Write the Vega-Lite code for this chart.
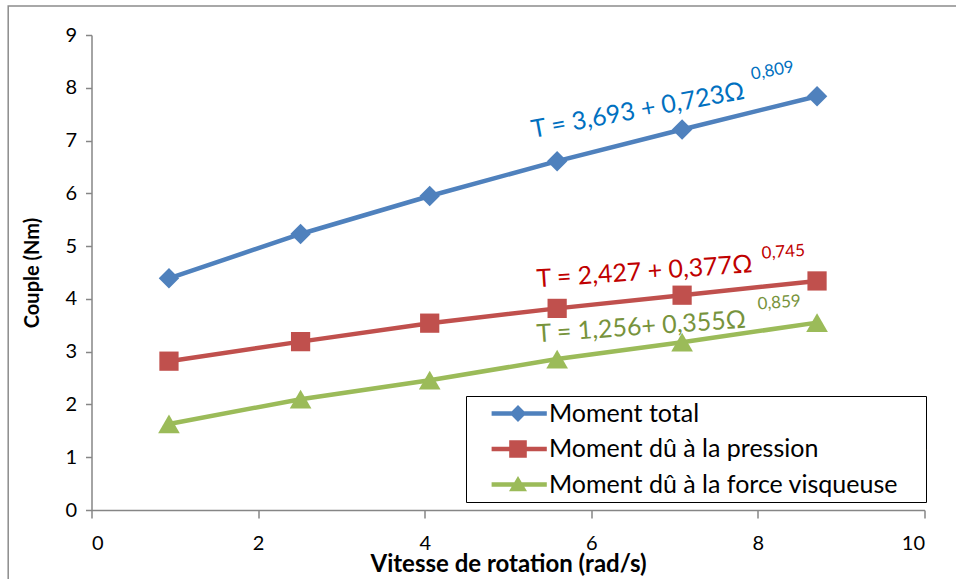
{
  "$schema": "https://vega.github.io/schema/vega-lite/v6.json",
  "width": 833,
  "height": 475,
  "autosize": {"type": "none"},
  "padding": {"left": 91.5, "top": 35, "right": 31.5, "bottom": 69},
  "background": "white",
  "config": {
    "view": {"stroke": null},
    "font": "Lato",
    "axis": {
      "grid": false,
      "domainColor": "#868686",
      "domainWidth": 1.5,
      "tickColor": "#868686",
      "tickWidth": 1.5,
      "labelFont": "Lato",
      "labelFontSize": 20,
      "labelColor": "black",
      "titleFont": "Lato",
      "titleFontWeight": "bold",
      "titleColor": "black"
    }
  },
  "datasets": {
    "points": [
      {"series": "Moment total", "x": 0.93, "y": 4.39},
      {"series": "Moment total", "x": 2.51, "y": 5.23},
      {"series": "Moment total", "x": 4.06, "y": 5.95},
      {"series": "Moment total", "x": 5.59, "y": 6.61},
      {"series": "Moment total", "x": 7.09, "y": 7.21},
      {"series": "Moment total", "x": 8.71, "y": 7.84},
      {"series": "Moment dû à la pression", "x": 0.93, "y": 2.82},
      {"series": "Moment dû à la pression", "x": 2.51, "y": 3.19},
      {"series": "Moment dû à la pression", "x": 4.06, "y": 3.54},
      {"series": "Moment dû à la pression", "x": 5.59, "y": 3.82},
      {"series": "Moment dû à la pression", "x": 7.09, "y": 4.07},
      {"series": "Moment dû à la pression", "x": 8.71, "y": 4.34},
      {"series": "Moment dû à la force visqueuse", "x": 0.93, "y": 1.63},
      {"series": "Moment dû à la force visqueuse", "x": 2.51, "y": 2.1},
      {"series": "Moment dû à la force visqueuse", "x": 4.06, "y": 2.46},
      {"series": "Moment dû à la force visqueuse", "x": 5.59, "y": 2.86},
      {"series": "Moment dû à la force visqueuse", "x": 7.09, "y": 3.18},
      {"series": "Moment dû à la force visqueuse", "x": 8.71, "y": 3.55}
    ],
    "eqs": [
      {"series": "Moment total", "main": "T = 3,693 + 0,723Ω", "sup": "0,809", "x": 5.3, "y": 7.05, "sx": 7.93, "sy": 8.15},
      {"series": "Moment dû à la pression", "main": "T = 2,427 + 0,377Ω", "sup": "0,745", "x": 5.35, "y": 4.22, "sx": 8.05, "sy": 4.76},
      {"series": "Moment dû à la force visqueuse", "main": "T = 1,256+ 0,355Ω", "sup": "0,859", "x": 5.35, "y": 3.18, "sx": 8.0, "sy": 3.8}
    ]
  },
  "layer": [
    {
      "data": {"values": [{}]},
      "mark": {"type": "rect", "fillOpacity": 0, "stroke": "#8C8C8C", "strokeWidth": 1.5},
      "encoding": {
        "x": {"datum": -1, "type": "quantitative"},
        "x2": {"datum": 11},
        "y": {"datum": 9.55, "type": "quantitative"},
        "y2": {"datum": -2}
      }
    },
    {
      "data": {"name": "points"},
      "mark": {"type": "line", "strokeWidth": 4.5},
      "encoding": {
        "x": {
          "field": "x", "type": "quantitative",
          "scale": {"domain": [0, 10], "nice": false},
          "axis": {"values": [0, 2, 4, 6, 8, 10], "format": "d", "tickSize": 8, "labelPadding": 15, "title": "Vitesse de rotation (rad/s)", "titleFontSize": 24, "titlePadding": -1}
        },
        "y": {
          "field": "y", "type": "quantitative",
          "scale": {"domain": [0, 9], "nice": false},
          "axis": {"values": [0, 1, 2, 3, 4, 5, 6, 7, 8, 9], "format": "d", "tickSize": 6, "labelPadding": 9, "title": "Couple (Nm)", "titleFontSize": 20, "titlePadding": 22}
        },
        "color": {
          "field": "series", "type": "nominal",
          "scale": {
            "domain": ["Moment total", "Moment dû à la pression", "Moment dû à la force visqueuse"],
            "range": ["#4F81BD", "#C0504D", "#9BBB59"]
          },
          "legend": {
            "title": ".",
            "titleOrient": "right",
            "titlePadding": 27,
            "titleFontSize": 4,
            "titleColor": "white",
            "orient": "none",
            "legendX": 374.5,
            "legendY": 361,
            "direction": "vertical",
            "fillColor": "white",
            "strokeColor": "black",
            "padding": 0,
            "symbolSize": 6400,
            "clipHeight": 35,
            "rowPadding": 0.5,
            "labelFont": "Lato",
            "labelFontSize": 25,
            "labelColor": "black",
            "labelOffset": 3,
            "labelLimit": 600,
            "encode": {
              "symbols": {
                "update": {
                  "shape": {"signal": "datum.value === 'Moment total' ? 'M-0.36,-0.055H1.02V0.055H-0.36Z M0.3,-0.21L0.51,0L0.3,0.21L0.09,0Z' : (datum.value === 'Moment dû à la pression' ? 'M-0.36,-0.055H1.02V0.055H-0.36Z M0.08,-0.22H0.52V0.22H0.08Z' : 'M-0.36,-0.055H1.02V0.055H-0.36Z M0.3,-0.21L0.525,0.17H0.075Z')"},
                  "fill": {"scale": "color", "field": "value"},
                  "stroke": {"value": "transparent"},
                  "strokeWidth": {"value": 0},
                  "opacity": {"value": 1}
                }
              }
            }
          }
        }
      }
    },
    {
      "data": {"name": "points"},
      "mark": {"type": "point", "filled": true, "opacity": 1},
      "encoding": {
        "x": {"field": "x", "type": "quantitative"},
        "y": {"field": "y", "type": "quantitative"},
        "color": {"field": "series", "type": "nominal", "legend": null},
        "shape": {
          "condition": [
            {"test": "datum.series === 'Moment total'", "value": "diamond"},
            {"test": "datum.series === 'Moment dû à la pression'", "value": "square"}
          ],
          "value": "triangle-up"
        },
        "size": {
          "condition": [
            {"test": "datum.series === 'Moment total'", "value": 420},
            {"test": "datum.series === 'Moment dû à la pression'", "value": 370}
          ],
          "value": 470
        }
      }
    },
    {
      "data": {"name": "eqs"},
      "mark": {"type": "text", "align": "left", "baseline": "alphabetic", "fontSize": 25, "font": "Lato"},
      "encoding": {
        "x": {"field": "x", "type": "quantitative"},
        "y": {"field": "y", "type": "quantitative"},
        "text": {"field": "main"},
        "angle": {"condition": {"test": "datum.series === 'Moment total'", "value": -10.5}, "value": -4},
        "fill": {
          "field": "series", "type": "nominal",
          "scale": {
            "domain": ["Moment total", "Moment dû à la pression", "Moment dû à la force visqueuse"],
            "range": ["#0070C0", "#C00000", "#77933C"]
          },
          "legend": null
        }
      }
    },
    {
      "data": {"name": "eqs"},
      "mark": {"type": "text", "align": "left", "baseline": "alphabetic", "fontSize": 17, "font": "Lato"},
      "encoding": {
        "x": {"field": "sx", "type": "quantitative"},
        "y": {"field": "sy", "type": "quantitative"},
        "text": {"field": "sup"},
        "angle": {"condition": {"test": "datum.series === 'Moment total'", "value": -10.5}, "value": -4},
        "fill": {"field": "series", "type": "nominal", "legend": null}
      }
    }
  ]
}
